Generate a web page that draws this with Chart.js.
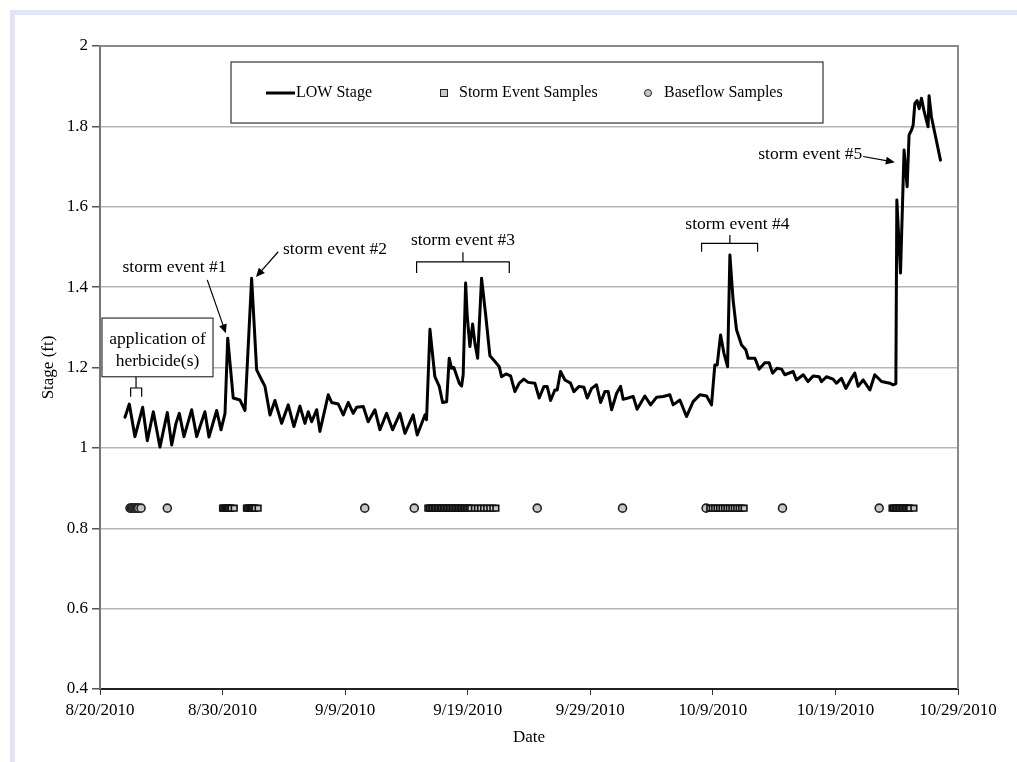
<!DOCTYPE html>
<html>
<head>
<meta charset="utf-8">
<script src="https://cdn.jsdelivr.net/npm/chart.js@4.4.0/dist/chart.umd.min.js"></script>
<style>
  html, body { margin: 0; padding: 0; background: #fff; }
  #frame { position: absolute; left: 10px; top: 10px; width: 1007px; height: 752px; border-left: 5px solid #e2e5f3; border-top: 5px solid #e2e5f3; box-sizing: border-box; }
  #stageChart { position: absolute; left: 0; top: 0; }
</style>
</head>
<body>
<div id="frame"></div>
<canvas id="stageChart" width="1017" height="762"></canvas>
<script>
// x values are days after 8/20/2010
const tickLabels = ['8/20/2010', '8/30/2010', '9/9/2010', '9/19/2010', '9/29/2010', '10/9/2010', '10/19/2010', '10/29/2010'];

const stageDays = [
  2.04, 2.39, 2.85, 3.48, 3.86, 4.35, 4.89, 5.49, 5.85, 6.20, 6.47, 6.85, 7.48, 7.89, 8.56, 8.89, 9.52, 9.87,
  10.20, 10.42, 10.87, 11.42, 11.83, 12.37, 12.78, 13.19, 13.46, 13.87, 14.27, 14.82, 15.36, 15.82, 16.31, 16.72,
  16.99, 17.27, 17.68, 17.94, 18.62, 18.90, 19.44, 19.85, 20.25, 20.66, 20.94, 21.48, 21.88, 22.43, 22.84, 23.38,
  23.87, 24.47, 24.88, 25.55, 25.88, 26.51, 26.64, 26.92, 27.32, 27.68, 27.95, 28.28, 28.49, 28.69, 28.87, 29.31,
  29.50, 29.63, 29.83, 29.96, 30.18, 30.40, 30.59, 30.81, 31.13, 31.48, 31.81, 32.22, 32.57, 32.76, 33.12, 33.50,
  33.85, 34.20, 34.58, 34.93, 35.48, 35.83, 36.22, 36.48, 36.76, 37.11, 37.30, 37.57, 37.93, 38.39, 38.66, 39.09,
  39.48, 39.75, 40.11, 40.51, 40.84, 41.19, 41.46, 41.74, 42.15, 42.47, 42.68, 43.09, 43.50, 43.82, 44.45, 44.92,
  45.41, 45.95, 46.49, 46.76, 47.31, 47.85, 48.39, 48.94, 49.49, 49.89, 50.16, 50.35, 50.63, 50.90, 51.20, 51.39,
  51.65, 51.93, 52.34, 52.69, 52.88, 53.43, 53.78, 54.24, 54.59, 54.87, 55.24, 55.60, 55.87, 56.55, 56.82, 57.37,
  57.77, 58.18, 58.67, 58.86, 59.27, 59.81, 60.09, 60.49, 60.85, 61.31, 61.58, 61.85, 62.26, 62.81, 63.21, 63.76,
  64.44, 64.71, 64.93, 65.01, 65.31, 65.60, 65.85, 66.01, 66.21, 66.34, 66.48, 66.66, 66.83, 67.02, 67.21, 67.56,
  67.64, 67.83, 68.57
];
const stageValues = [
  1.076, 1.109, 1.028, 1.101, 1.018, 1.090, 1.002, 1.088, 1.007, 1.061, 1.086, 1.028, 1.095, 1.028, 1.090, 1.027, 1.093, 1.045,
  1.086, 1.273, 1.124, 1.119, 1.093, 1.422, 1.194, 1.169, 1.153, 1.082, 1.118, 1.061, 1.107, 1.053, 1.104, 1.061,
  1.090, 1.065, 1.095, 1.041, 1.132, 1.113, 1.109, 1.082, 1.113, 1.086, 1.101, 1.103, 1.065, 1.095, 1.045, 1.086,
  1.045, 1.086, 1.036, 1.082, 1.032, 1.082, 1.070, 1.295, 1.177, 1.153, 1.113, 1.115, 1.223, 1.198, 1.200, 1.161,
  1.154, 1.182, 1.410, 1.327, 1.252, 1.308, 1.260, 1.223, 1.422, 1.327, 1.229, 1.215, 1.202, 1.177, 1.184, 1.179,
  1.140, 1.161, 1.171, 1.163, 1.161, 1.124, 1.153, 1.153, 1.118, 1.144, 1.144, 1.190, 1.169, 1.161, 1.140, 1.153,
  1.151, 1.124, 1.148, 1.157, 1.113, 1.140, 1.140, 1.095, 1.136, 1.153, 1.121, 1.124, 1.128, 1.096, 1.129, 1.107,
  1.126, 1.128, 1.132, 1.107, 1.119, 1.078, 1.115, 1.132, 1.129, 1.107, 1.206, 1.206, 1.281, 1.236, 1.202, 1.480,
  1.368, 1.294, 1.256, 1.244, 1.223, 1.223, 1.196, 1.212, 1.212, 1.186, 1.198, 1.196, 1.182, 1.190, 1.169, 1.182,
  1.165, 1.179, 1.177, 1.165, 1.177, 1.171, 1.161, 1.173, 1.148, 1.173, 1.186, 1.153, 1.169, 1.144, 1.182, 1.165,
  1.161, 1.157, 1.160, 1.617, 1.435, 1.741, 1.650, 1.779, 1.791, 1.803, 1.857, 1.864, 1.844, 1.870, 1.841, 1.799,
  1.876, 1.824, 1.716
];

const stormSampleDays = [
  10.0, 10.1, 10.2, 10.3, 10.4, 10.5, 10.6, 10.7, 10.95,
  11.95, 12.05, 12.15, 12.25, 12.35, 12.45, 12.55, 12.65, 12.9,
  26.75, 26.87, 27.0, 27.12, 27.25, 27.37, 27.5, 27.62, 27.75, 27.87, 28.0, 28.12, 28.25, 28.37, 28.5,
  28.62, 28.75, 28.87, 29.0, 29.12, 29.25, 29.37, 29.5, 29.62, 29.75, 29.87, 30.0, 30.12, 30.25,
  30.55, 30.8, 31.05, 31.3, 31.55, 31.8, 32.05, 32.3,
  49.75, 49.95, 50.15, 50.35, 50.55, 50.75, 50.95, 51.15, 51.35, 51.55, 51.75, 51.95, 52.15, 52.35, 52.55,
  64.62, 64.74, 64.86, 64.98, 65.1, 65.22, 65.34, 65.46, 65.58, 65.7, 65.82, 65.94, 66.06, 66.4
];
const baseflowSampleDays = [2.45, 2.55, 2.65, 2.75, 2.85, 2.95, 3.05, 3.15, 3.35, 5.49, 21.6, 25.64, 35.67, 42.63, 49.45, 55.68, 63.57];
const sampleLevel = 0.85;

const serif = '"Liberation Serif", "Times New Roman", serif';
Chart.defaults.font.family = serif;
Chart.defaults.font.size = 17;
Chart.defaults.color = '#000';

const plotFrame = {
  id: 'plotFrame',
  beforeDatasetsDraw(chart) {
    const {ctx, chartArea: a} = chart;
    ctx.save();
    ctx.strokeStyle = '#8a8a8a';
    ctx.lineWidth = 2;
    ctx.beginPath();
    ctx.moveTo(a.left, a.top);
    ctx.lineTo(a.right, a.top);
    ctx.lineTo(a.right, a.bottom);
    ctx.stroke();
    ctx.restore();
  }
};

function arrow(ctx, x1, y1, x2, y2) {
  const ang = Math.atan2(y2 - y1, x2 - x1);
  ctx.beginPath();
  ctx.moveTo(x1, y1);
  ctx.lineTo(x2 - 6 * Math.cos(ang), y2 - 6 * Math.sin(ang));
  ctx.stroke();
  ctx.beginPath();
  ctx.moveTo(x2, y2);
  ctx.lineTo(x2 - 9 * Math.cos(ang) + 4 * Math.sin(ang), y2 - 9 * Math.sin(ang) - 4 * Math.cos(ang));
  ctx.lineTo(x2 - 9 * Math.cos(ang) - 4 * Math.sin(ang), y2 - 9 * Math.sin(ang) + 4 * Math.cos(ang));
  ctx.closePath();
  ctx.fill();
}

function bracket(ctx, x1, x2, xm, yLine, yEnd, yStem) {
  ctx.beginPath();
  ctx.moveTo(x1, yEnd);
  ctx.lineTo(x1, yLine);
  ctx.lineTo(x2, yLine);
  ctx.lineTo(x2, yEnd);
  ctx.moveTo(xm, yLine);
  ctx.lineTo(xm, yStem);
  ctx.stroke();
}

const notes = {
  id: 'notes',
  afterDatasetsDraw(chart) {
    const {ctx} = chart;
    const sx = chart.scales.x, sy = chart.scales.y;
    const px = d => sx.getPixelForValue(d);
    const py = v => sy.getPixelForValue(v);
    ctx.save();
    ctx.font = '17.5px ' + serif;
    ctx.fillStyle = '#000';
    ctx.strokeStyle = '#000';
    ctx.lineWidth = 1.2;
    ctx.textAlign = 'center';
    ctx.textBaseline = 'middle';

    // herbicide box
    ctx.fillStyle = '#fff';
    ctx.fillRect(px(0.16), py(1.323), px(9.22) - px(0.16), py(1.177) - py(1.323));
    ctx.strokeStyle = '#333';
    ctx.strokeRect(px(0.16), py(1.323), px(9.22) - px(0.16), py(1.177) - py(1.323));
    ctx.strokeStyle = '#000';
    ctx.fillStyle = '#000';
    ctx.fillText('application of', px(4.69), py(1.269));
    ctx.fillText('herbicide(s)', px(4.69), py(1.214));
    bracket(ctx, px(2.50), px(3.40), px(2.94), py(1.149), py(1.127), py(1.177));

    ctx.fillText('storm event #1', px(6.08), py(1.448));
    arrow(ctx, px(8.75), py(1.418), px(10.27), py(1.285));

    ctx.fillText('storm event #2', px(19.17), py(1.493));
    arrow(ctx, px(14.54), py(1.488), px(12.72), py(1.425));

    ctx.fillText('storm event #3', px(29.61), py(1.517));
    bracket(ctx, px(25.83), px(33.39), px(29.61), py(1.463), py(1.435), py(1.487));

    ctx.fillText('storm event #4', px(52.0), py(1.557));
    bracket(ctx, px(49.08), px(53.65), px(51.39), py(1.509), py(1.488), py(1.530));

    ctx.fillText('storm event #5', px(57.95), py(1.731));
    arrow(ctx, px(62.26), py(1.725), px(64.85), py(1.711));
    ctx.restore();
  }
};

const boxLegend = {
  id: 'boxLegend',
  afterDraw(chart) {
    const {ctx} = chart;
    const ds = chart.data.datasets;
    ctx.save();
    ctx.fillStyle = '#fff';
    ctx.fillRect(231, 62, 592, 61);
    ctx.strokeStyle = '#333';
    ctx.lineWidth = 1.2;
    ctx.strokeRect(231, 62, 592, 61);
    ctx.font = '16px ' + serif;
    ctx.fillStyle = '#000';
    ctx.textBaseline = 'middle';
    ctx.textAlign = 'left';
    const cy = 93;
    ctx.lineWidth = 3;
    ctx.strokeStyle = '#000';
    ctx.beginPath();
    ctx.moveTo(266, cy);
    ctx.lineTo(295, cy);
    ctx.stroke();
    ctx.fillText(ds[0].label, 296, cy);

    ctx.lineWidth = 1;
    ctx.fillStyle = '#c8c8c8';
    ctx.fillRect(440.5, cy - 3.5, 7, 7);
    ctx.strokeStyle = '#222';
    ctx.strokeRect(440.5, cy - 3.5, 7, 7);
    ctx.fillStyle = '#000';
    ctx.fillText(ds[1].label, 459, cy);

    ctx.fillStyle = '#c8c8c8';
    ctx.beginPath();
    ctx.arc(648, cy, 3.5, 0, Math.PI * 2);
    ctx.fill();
    ctx.stroke();
    ctx.fillStyle = '#000';
    ctx.fillText(ds[2].label, 664, cy);
    ctx.restore();
  }
};

new Chart(document.getElementById('stageChart').getContext('2d'), {
  data: {
    datasets: [
      {
        type: 'line',
        label: 'LOW Stage',
        data: stageDays.map((d, i) => ({x: d, y: stageValues[i]})),
        borderColor: '#000',
        borderWidth: 3,
        borderJoinStyle: 'round',
        borderCapStyle: 'round',
        pointRadius: 0,
        tension: 0,
        order: 0
      },
      {
        type: 'scatter',
        label: 'Storm Event Samples',
        data: stormSampleDays.map(d => ({x: d, y: sampleLevel})),
        pointStyle: 'rect',
        pointRadius: 4,
        backgroundColor: '#c8c8c8',
        borderColor: '#111',
        borderWidth: 1.6,
        order: 1
      },
      {
        type: 'scatter',
        label: 'Baseflow Samples',
        data: baseflowSampleDays.map(d => ({x: d, y: sampleLevel})),
        pointStyle: 'circle',
        pointRadius: 4,
        backgroundColor: '#c8c8c8',
        borderColor: '#222',
        borderWidth: 1.6,
        order: 2
      }
    ]
  },
  options: {
    responsive: false,
    animation: false,
    layout: {padding: {top: 46, right: 59, bottom: 0, left: 0}},
    plugins: {
      legend: {display: false},
      tooltip: {enabled: false}
    },
    scales: {
      x: {
        type: 'linear',
        min: 0,
        max: 70,
        ticks: {
          stepSize: 10,
          padding: 5,
          maxRotation: 0,
          callback: (v, i) => tickLabels[i]
        },
        grid: {drawOnChartArea: false, tickLength: 6, tickColor: '#333', lineWidth: 1},
        border: {color: '#222', width: 2},
        title: {display: true, text: 'Date', padding: {top: 17, bottom: 14}},
        afterFit: s => { s.height = 73; }
      },
      y: {
        min: 0.4,
        max: 2,
        ticks: {stepSize: 0.2, padding: 4, callback: v => String(Number(v.toFixed(1)))},
        grid: {color: '#b5b5b5', lineWidth: 1.5, tickLength: 8, tickColor: '#555'},
        border: {color: '#777', width: 2},
        title: {display: true, text: 'Stage (ft)', padding: {top: 38}},
        afterFit: s => { s.width = 100; }
      }
    }
  },
  plugins: [plotFrame, notes, boxLegend]
});
</script>
</body>
</html>
